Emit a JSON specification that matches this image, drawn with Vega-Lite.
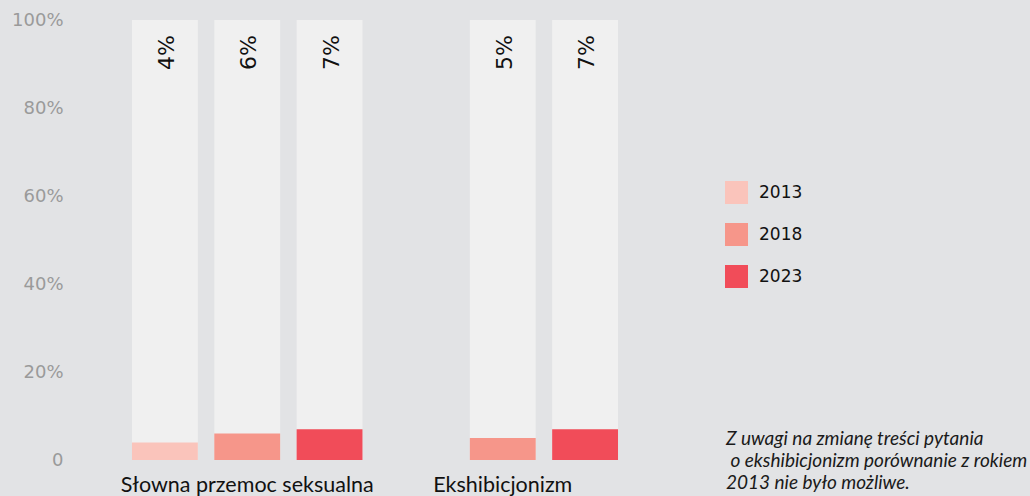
{
  "$schema": "https://vega.github.io/schema/vega-lite/v6.json",
  "width": 600,
  "height": 440,
  "autosize": {"type": "none"},
  "padding": {"left": 75, "top": 20, "right": 355, "bottom": 36},
  "background": "#e2e3e5",
  "config": {"view": {"stroke": null}},
  "title": {
    "text": ["Z uwagi na zmianę treści pytania", "\u200b\u00a0o ekshibicjonizm porównanie z rokiem", "2013 nie było możliwe."],
    "orient": "bottom",
    "anchor": "end",
    "align": "left",
    "frame": "group",
    "dx": 51,
    "dy": -70,
    "font": "Lato",
    "fontStyle": "italic",
    "fontWeight": "normal",
    "fontSize": 19,
    "lineHeight": 22,
    "limit": 0,
    "color": "#1a1a1a"
  },
  "data": {
    "values": [
      {"kategoria": "Słowna przemoc seksualna", "rok": "2013", "wartosc": 0.04},
      {"kategoria": "Słowna przemoc seksualna", "rok": "2018", "wartosc": 0.06},
      {"kategoria": "Słowna przemoc seksualna", "rok": "2023", "wartosc": 0.07},
      {"kategoria": "Ekshibicjonizm", "rok": "2018", "wartosc": 0.05},
      {"kategoria": "Ekshibicjonizm", "rok": "2023", "wartosc": 0.07}
    ]
  },
  "encoding": {
    "x": {
      "field": "kategoria",
      "type": "nominal",
      "sort": null,
      "scale": {"paddingInner": 0.098, "paddingOuter": 0.223},
      "axis": {
        "title": null,
        "domain": false,
        "ticks": false,
        "labelAngle": 0,
        "labelFont": "Lato",
        "labelFontSize": 21.5,
        "labelLimit": 0,
        "labelColor": "#111111",
        "labelPadding": 14
      }
    },
    "xOffset": {
      "field": "rok",
      "type": "nominal",
      "scale": {"domain": ["2013", "2018", "2023"], "paddingInner": 0.2, "paddingOuter": 0}
    }
  },
  "layer": [
    {
      "mark": {"type": "bar", "color": "#f0f0f0"},
      "encoding": {
        "y": {
          "datum": 1,
          "type": "quantitative",
          "scale": {"domain": [0, 1]},
          "axis": {
            "title": null,
            "domain": false,
            "ticks": false,
            "grid": false,
            "values": [0, 0.2, 0.4, 0.6, 0.8, 1],
            "labelExpr": "datum.value === 0 ? '0' : format(datum.value, '.0%')",
            "labelFont": "DejaVu Sans",
            "labelFontSize": 18,
            "labelColor": "#9a9a9a",
            "labelPadding": 12
          }
        }
      }
    },
    {
      "mark": {"type": "bar"},
      "encoding": {
        "y": {"field": "wartosc", "type": "quantitative"},
        "color": {
          "field": "rok",
          "type": "nominal",
          "scale": {"domain": ["2013", "2018", "2023"], "range": ["#fac4bb", "#f6968a", "#f14c59"]},
          "legend": {
            "title": null,
            "orient": "none",
            "legendX": 650,
            "legendY": 161,
            "symbolType": "square",
            "symbolSize": 529,
            "symbolStrokeWidth": 0,
            "symbolOpacity": 1,
            "labelFont": "DejaVu Sans",
            "labelFontSize": 17,
            "labelColor": "#111111",
            "labelOffset": 11,
            "rowPadding": 19
          }
        }
      }
    },
    {
      "mark": {"type": "text", "angle": 270, "align": "right", "baseline": "middle", "dx": -15, "dy": 2, "fontSize": 22, "font": "DejaVu Sans", "color": "#111111"},
      "encoding": {
        "y": {"datum": 1, "type": "quantitative"},
        "text": {"field": "wartosc", "type": "quantitative", "format": ".0%"}
      }
    }
  ]
}
